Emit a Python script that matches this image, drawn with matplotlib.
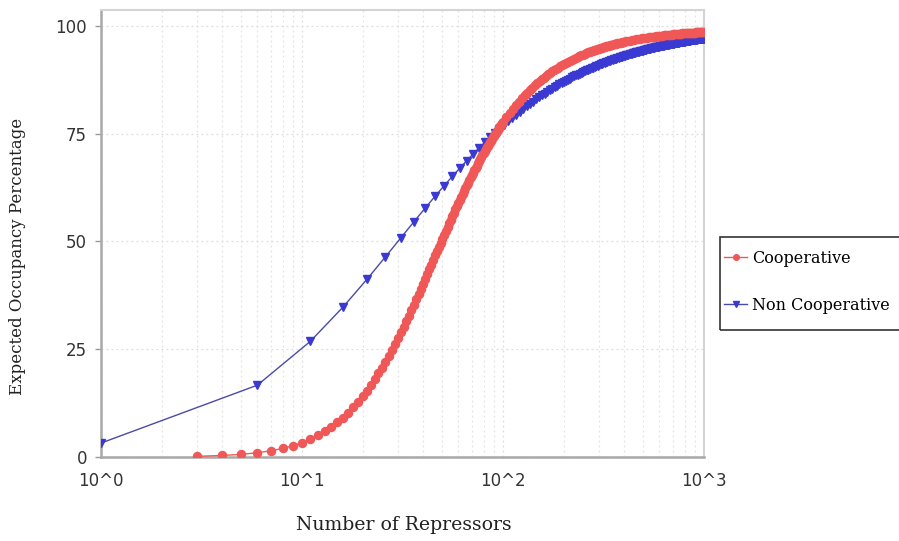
import matplotlib
matplotlib.use("Agg")
import matplotlib.pyplot as plt
from matplotlib.patches import Rectangle
from matplotlib.ticker import LogLocator, FixedLocator, NullFormatter

# ---------------- data ----------------
coop_n = (list(range(3, 101)) + list(range(104, 201, 4)) +
          list(range(205, 401, 5)) + list(range(410, 1001, 10)))
coop_pct = [
    0.16, 0.35, 0.62, 0.99, 1.44, 1.98, 2.61, 3.33, 4.12, 5.00,
    5.93, 6.94, 8.01, 9.14, 10.30, 11.52, 12.78, 14.04, 15.36, 16.67,
    18.02, 19.38, 20.73, 22.11, 23.47, 24.83, 26.19, 27.55, 28.89, 30.22,
    31.54, 32.81, 34.09, 35.36, 36.59, 37.82, 39.00, 40.18, 41.34, 42.46,
    43.59, 44.64, 45.71, 46.75, 47.75, 48.75, 49.72, 50.66, 51.58, 52.49,
    53.37, 54.22, 55.06, 55.88, 56.68, 57.45, 58.21, 58.96, 59.67, 60.38,
    61.07, 61.74, 62.39, 63.04, 63.65, 64.26, 64.86, 65.43, 66.00, 66.55,
    67.09, 67.61, 68.12, 68.62, 69.11, 69.59, 70.05, 70.51, 70.95, 71.38,
    71.81, 72.22, 72.62, 73.02, 73.40, 73.78, 74.15, 74.51, 74.87, 75.21,
    75.55, 75.88, 76.21, 76.52, 76.83, 77.13, 77.43, 77.72,
    # 104 .. 200 step 4
    78.82, 79.84, 80.78, 81.65, 82.45, 83.20, 83.89, 84.54, 85.14, 85.71,
    86.24, 86.73, 87.20, 87.64, 88.04, 88.43, 88.80, 89.15, 89.48, 89.78,
    90.08, 90.36, 90.63, 90.88, 91.12,
    # 205 .. 400 step 5
    91.41, 91.68, 91.93, 92.17, 92.40, 92.61, 92.82, 93.01, 93.20, 93.37,
    93.54, 93.70, 93.85, 93.99, 94.14, 94.27, 94.40, 94.52, 94.63, 94.75,
    94.86, 94.96, 95.06, 95.16, 95.25, 95.34, 95.43, 95.51, 95.58, 95.66,
    95.74, 95.81, 95.89, 95.95, 96.01, 96.08, 96.14, 96.20, 96.26, 96.31,
    # 410 .. 1000 step 10
    96.42, 96.52, 96.62, 96.71, 96.80, 96.88, 96.96, 97.02, 97.10, 97.16,
    97.23, 97.29, 97.34, 97.40, 97.46, 97.51, 97.55, 97.60, 97.65, 97.69,
    97.73, 97.77, 97.81, 97.85, 97.88, 97.91, 97.95, 97.98, 98.01, 98.04,
    98.07, 98.10, 98.13, 98.15, 98.18, 98.20, 98.23, 98.25, 98.27, 98.29,
    98.32, 98.34, 98.36, 98.38, 98.40, 98.42, 98.43, 98.45, 98.47, 98.48,
    98.50, 98.52, 98.53, 98.55, 98.56, 98.58, 98.59, 98.60, 98.62, 98.63,
]

noncoop_n = list(range(1, 1000, 5))
noncoop_pct = [
    3.23, 16.67, 26.83, 34.78, 41.18, 46.43, 50.82, 54.55, 57.75, 60.53,
    62.96, 65.12, 67.03, 68.75, 70.30, 71.70, 72.97, 74.14, 75.21, 76.19,
    77.10, 77.94, 78.72, 79.45, 80.13, 80.77, 81.37, 81.93, 82.46, 82.95,
    83.43, 83.87, 84.29, 84.69, 85.07, 85.44, 85.78, 86.11, 86.43, 86.73,
    87.01, 87.29, 87.55, 87.80, 88.05, 88.28, 88.51, 88.72, 88.93, 89.13,
    89.32, 89.51, 89.69, 89.86, 90.03, 90.20, 90.35, 90.51, 90.65, 90.80,
    90.94, 91.07, 91.20, 91.33, 91.45, 91.57, 91.69, 91.80, 91.91, 92.02,
    92.13, 92.23, 92.33, 92.42, 92.52, 92.61, 92.70, 92.79, 92.87, 92.96,
    93.04, 93.12, 93.20, 93.27, 93.35, 93.42, 93.49, 93.56, 93.63, 93.70,
    93.76, 93.83, 93.89, 93.95, 94.01, 94.07, 94.13, 94.19, 94.24, 94.30,
    94.35, 94.40, 94.45, 94.51, 94.56, 94.60, 94.65, 94.70, 94.75, 94.79,
    94.84, 94.88, 94.92, 94.97, 95.01, 95.05, 95.09, 95.13, 95.17, 95.21,
    95.25, 95.28, 95.32, 95.36, 95.39, 95.43, 95.46, 95.50, 95.53, 95.56,
    95.59, 95.63, 95.66, 95.69, 95.72, 95.75, 95.78, 95.81, 95.84, 95.87,
    95.90, 95.92, 95.95, 95.98, 96.01, 96.03, 96.06, 96.08, 96.11, 96.13,
    96.16, 96.18, 96.21, 96.23, 96.25, 96.28, 96.30, 96.32, 96.35, 96.37,
    96.39, 96.41, 96.43, 96.45, 96.47, 96.50, 96.52, 96.54, 96.56, 96.58,
    96.59, 96.61, 96.63, 96.65, 96.67, 96.69, 96.71, 96.72, 96.74, 96.76,
    96.78, 96.79, 96.81, 96.83, 96.85, 96.86, 96.88, 96.89, 96.91, 96.93,
    96.94, 96.96, 96.97, 96.99, 97.00, 97.02, 97.03, 97.05, 97.06, 97.08,
]

x_ticks = [1, 10, 100, 1000]
x_tick_labels = ["10^0", "10^1", "10^2", "10^3"]
y_ticks = [0, 25, 50, 75, 100]
series_labels = ["Cooperative", "Non Cooperative"]

# ---------------- figure ----------------
W, H = 899, 541
fig = plt.figure(figsize=(W / 100, H / 100), dpi=100)
ax = fig.add_axes([101 / W, 1 - 457 / H, 603 / W, 447 / H])

red = "#f05858"
blue = "#3a3ad2"

ax.plot(coop_n, coop_pct, color=red, lw=1.0, marker="o", ms=5.8,
        mec=red, mfc=red, label=series_labels[0], zorder=4)
ax.plot(noncoop_n, noncoop_pct, color="#4a4aa8", lw=1.0, marker="v", ms=6.3,
        mec=blue, mfc=blue, label=series_labels[1], zorder=3)

ax.set_xscale("log")
ax.set_xlim(1, 1000)
ax.set_ylim(0, 103.7)

ax.xaxis.set_major_locator(FixedLocator(x_ticks))
ax.set_xticklabels(x_tick_labels)
ax.xaxis.set_minor_locator(LogLocator(base=10, subs=range(2, 10)))
ax.xaxis.set_minor_formatter(NullFormatter())
ax.set_yticks(y_ticks)

ax.tick_params(axis="x", which="both", length=0, pad=11, labelsize=12,
               labelcolor="#333333")
ax.tick_params(axis="y", which="major", length=4, width=1, color="#999999",
               pad=6, labelsize=12, labelcolor="#333333")

ax.grid(True, which="major", axis="both", color="#dddddd", lw=0.9,
        ls=(0, (1.5, 2.5)))
ax.grid(True, which="minor", axis="x", color="#e3e3e3", lw=0.9,
        ls=(0, (1.5, 2.5)))

for side in ("left", "bottom"):
    ax.spines[side].set_color("#a8a8a8")
    ax.spines[side].set_linewidth(1.8)
for side in ("top", "right"):
    ax.spines[side].set_color("#d4d4d4")
    ax.spines[side].set_linewidth(1.5)

ax.set_xlabel("Number of Repressors", family="DejaVu Serif", fontsize=13.6,
              color="#222222")
ax.xaxis.set_label_coords((404 - 101) / 603, -(525 - 457) / 447)
ax.set_ylabel("Expected Occupancy Percentage", family="DejaVu Serif",
              fontsize=12, color="#222222")
ax.yaxis.set_label_coords((18 - 101) / 603, (457 - 256) / 447)
ax.xaxis.label.set_verticalalignment("center")
ax.yaxis.label.set_verticalalignment("center")

# legend box (frame drawn separately so it can run to the right edge)
fig.patches.append(Rectangle((720 / W, 1 - 330 / H), 200 / W, 93 / H,
                             transform=fig.transFigure, fill=False,
                             edgecolor="#333333", lw=1.2, zorder=5))
leg = fig.legend(loc="upper left", bbox_to_anchor=(724 / W, 1 - 250 / H),
                 frameon=False, prop={"family": "DejaVu Serif", "size": 11.5},
                 labelspacing=1.85, handlelength=1.45, handletextpad=0.3,
                 borderpad=0, borderaxespad=0, markerscale=0.7)

fig.savefig("out.png", dpi=100)
